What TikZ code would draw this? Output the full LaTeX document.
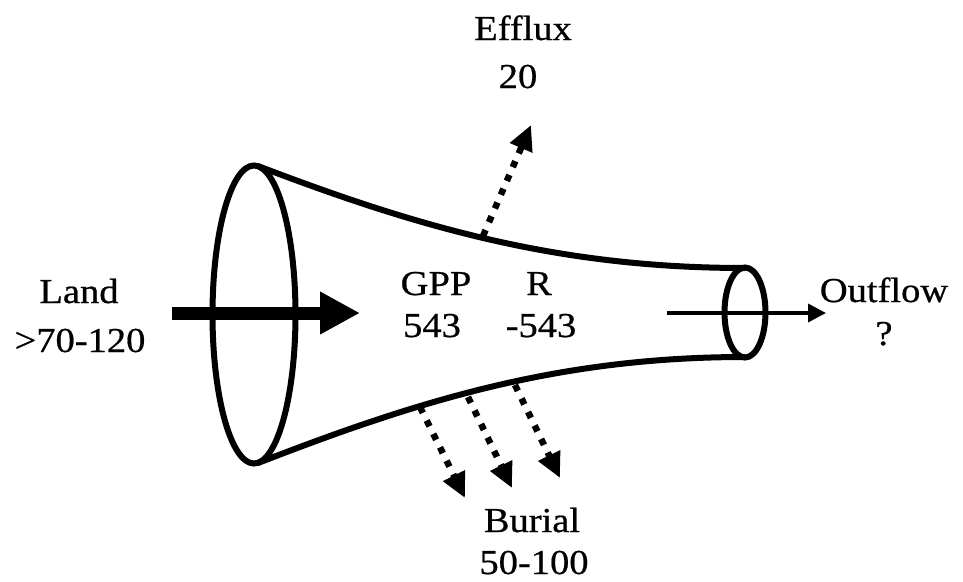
\documentclass[tikz,border=0pt]{standalone}
\usepackage{fontspec}
\setmainfont{Liberation Serif}[FakeStretch=1.1,FakeBold=0.6]
\usetikzlibrary{arrows.meta}
\begin{document}
\begin{tikzpicture}[x=1pt,y=-1pt,
  lbl/.style={anchor=base,inner sep=0pt,font=\fontsize{35}{42}\selectfont},
  outline/.style={line width=6pt},
  dotarrow/.style={line width=6.5pt,dash pattern=on 6.5pt off 8.5pt,-{Triangle[length=25pt,width=23pt]}},
]
\useasboundingbox (0,0) rectangle (963,581);
% cone body
\coordinate (tl) at (258,166);
\coordinate (tr) at (745,268);
\coordinate (bl) at (258,463);
\coordinate (br) at (745,357);
\draw[outline] (tl) .. controls (420,228) and (560,268) .. (tr);
\draw[outline] (bl) .. controls (420,400) and (560,357) .. (br);
\draw[outline] (254,314.5) ellipse [x radius=41.5pt, y radius=149pt];
\draw[outline] (745,312.5) ellipse [x radius=20.5pt, y radius=45pt];
% arrows
\coordinate (landS) at (172,313);
\coordinate (landE) at (360,313);
\draw[line width=13pt,-{Triangle[length=40pt,width=40pt]}] (landS) -- (landE);
\coordinate (outS) at (667,313);
\coordinate (outE) at (826,313);
\draw[line width=3.5pt,-{Triangle[length=18pt,width=18pt]}] (outS) -- (outE);
\coordinate (effS) at (483,236);
\coordinate (effE) at (531,125);
\draw[dotarrow] (effS) -- (effE);
\coordinate (b1S) at (420,407);
\coordinate (b1E) at (465,498);
\coordinate (b2S) at (468,397);
\coordinate (b2E) at (512,488);
\coordinate (b3S) at (515,385);
\coordinate (b3E) at (560,478);
\draw[dotarrow] (b1S) -- (b1E);
\draw[dotarrow] (b2S) -- (b2E);
\draw[dotarrow] (b3S) -- (b3E);
% labels
\node[lbl] (efflux) at (523,40) {Efflux};
\node[lbl] (effluxv) at (518,88) {20};
\node[lbl] (land) at (79,303) {Land};
\node[lbl] (landv) at (80,352) {>70-120};
\node[lbl] (gpp) at (436,295) {GPP};
\node[lbl] (gppv) at (432,337) {543};
\node[lbl] (resp) at (539,295) {R};
\node[lbl] (respv) at (541,337) {-543};
\node[lbl] (outflow) at (884,302) {Outflow};
\node[lbl] (outflowv) at (884,345) {?};
\node[lbl] (burial) at (532,532) {Burial};
\node[lbl] (burialv) at (534,574) {50-100};
\end{tikzpicture}
\end{document}
